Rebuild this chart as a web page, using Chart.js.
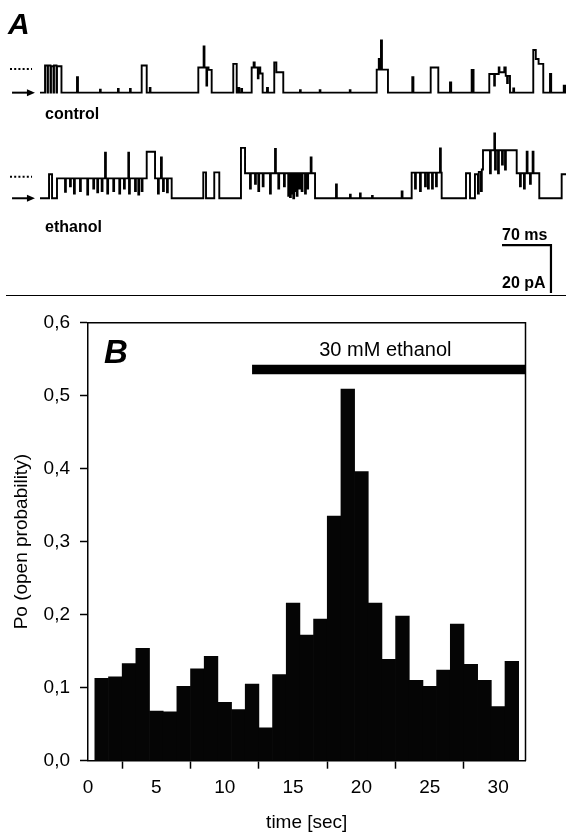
<!DOCTYPE html>
<html>
<head>
<meta charset="utf-8">
<script src="https://cdn.jsdelivr.net/npm/chart.js@4.4.1/dist/chart.umd.min.js"></script>
<style>
  html, body { margin: 0; padding: 0; background: #fff; }
  body { width: 566px; height: 839px; position: relative; overflow: hidden; }
  #traceChart { position: absolute; left: 0; top: 0; }
  #separator { position: absolute; left: 6px; top: 295px; width: 560px; height: 0; border-top: 1.5px solid #000; }
  #poChart { position: absolute; left: 0; top: 297px; }
</style>
</head>
<body>
<canvas id="traceChart" width="566" height="295"></canvas>
<div id="separator"></div>
<canvas id="poChart" width="566" height="542"></canvas>
<script>
/* ================= PANEL A DATA: single channel traces (time ms, current pA) ================= */
// each pair = [time where the level starts, current level]
const controlSteps = [
    [0, 0],
    [7.2, 11.3], [10.7, 0], [11.4, 11.3], [15, 0], [15.7, 11], [19.3, 0], [20, 11.3], [23.6, 0], [24.3, 11], [30.7, 0],
    [52.9, 6.4], [54.3, 0],
    [85.8, 1.2], [86.8, 0], [111.5, 1.5], [112.5, 0], [128.7, 1.5], [129.7, 0],
    [145.4, 11.3], [152.6, 0],
    [157, 2], [158, 0],
    [226.4, 10.5], [234, 19.2], [235.2, 10.5], [238, 3], [239, 10.5], [241, 9.5], [245.5, 0],
    [276.4, 12], [281.3, 0], [284, 2], [285, 0], [288, 1.5], [289, 0],
    [302.7, 10.5], [305.5, 12.6], [307, 10.5], [311.5, 6], [312.5, 10.5], [315, 8], [318.4, 0],
    [324.6, 2], [326, 0],
    [335, 12.6], [338, 8.5], [347.9, 0],
    [371.8, 1], [372.8, 0], [400, 1], [401, 0], [443, 1], [444, 0],
    [481.5, 9.6], [484.5, 14], [485.5, 9.6], [487.6, 21.7], [489, 9.6], [497.6, 0],
    [532.4, 6.4], [534, 0],
    [558.7, 10.5], [569.6, 0],
    [586.3, 4.3], [588, 0],
    [617.3, 9.5], [620, 0],
    [642.5, 7.8], [649.5, 3], [650.5, 7.8], [656, 10.5], [657, 8.5], [664, 10.5], [666, 7], [668, 4], [669, 7], [672.1, 0],
    [676.8, 1.7], [678, 0],
    [705.4, 17.8], [709, 14], [713, 12], [719.7, 0],
    [729.3, 7.8], [731, 0],
    [749, 2.9], [751, 0], [752.2, 0]
];

const ethanolSteps = [
    [0, 0],
    [12.9, 10], [17.2, 0],
    [24.3, 8.3], [35.8, 2.7], [37, 8.3], [42.9, 5], [44.1, 8.3], [48.6, 2], [49.8, 8.3], [57.2, 3], [58.4, 8.3],
    [67.6, 1.5], [68.8, 8.3], [76.2, 4], [77.4, 8.3], [81.9, 2.5], [83.1, 8.3], [88.2, 3], [89.4, 8.3],
    [93, 19], [94.2, 8.3], [96.2, 2], [97.4, 8.3], [104.8, 3], [106, 8.3], [113.4, 2], [114.6, 8.3],
    [120.1, 4], [121.3, 8.3], [126.3, 19], [127.3, 2], [128.5, 8.3], [135.9, 3], [137.1, 8.3],
    [140.6, 1.5], [141.8, 8.3], [145.4, 3], [146.6, 8.3],
    [152.6, 19.4], [164.5, 8.3], [168.7, 2], [169.9, 8.3], [173, 17], [174.2, 8.3], [175.9, 3], [177.1, 8.3],
    [181.6, 2.5], [182.8, 8.3], [188.3, 0],
    [233.5, 10.8], [237.4, 0],
    [249.2, 10.8], [256.4, 0],
    [287.4, 21], [293.2, 10.4], [300.3, 4], [301.5, 10.4], [307.5, 6], [308.7, 10.4], [312.2, 3], [313.4, 10.4],
    [318.5, 5], [319.7, 10.4], [328.9, 2], [330.1, 10.4], [336.1, 20.5], [337.3, 10.4], [340.8, 4], [342, 10.4],
    [348.9, 5], [350.1, 10.4], [355, 1], [356.2, 10.4], [357.5, 0.5], [358.7, 10.4], [359.9, 2], [361, 10.4],
    [362.2, 0], [363.4, 10.4], [365, 3], [366, 10.4], [367.1, 1], [368.3, 10.4], [371, 4], [372.2, 10.4],
    [374.2, 3], [375.4, 10.4], [379, 2], [380.2, 10.4], [382.2, 4], [383.4, 10.4], [387.1, 17], [388.3, 10.4],
    [393.3, 0],
    [423.3, 5.8], [424.5, 0],
    [443.3, 1.5], [444.3, 0], [457.6, 2], [458.6, 0], [474.8, 1], [475.8, 0],
    [517.2, 2.8], [518.4, 0],
    [531.5, 10.7], [536.3, 4], [537.5, 10.7], [543.4, 3], [544.6, 10.7], [550.6, 5], [551.8, 10.7],
    [554.8, 4], [556, 10.7], [560.6, 4], [561.8, 10.7], [566.3, 5], [567.5, 10.7], [572, 20.8], [573.2, 10.7],
    [574.4, 0],
    [609.2, 10.4], [614.9, 0],
    [622, 10], [626.3, 2], [627.5, 11], [630.6, 3], [631.8, 12], [633.5, 20],
    [643.5, 10.4], [644.7, 20], [649.7, 27], [650.7, 12], [651.9, 20], [655, 10.4], [656.2, 20],
    [660.7, 14], [661.9, 20], [665, 12], [666.2, 20],
    [681.7, 10.4], [686.4, 5], [687.6, 10.4], [692.1, 4], [693.3, 10.4], [696, 19.4], [697.2, 10.4],
    [700.7, 6], [701.9, 10.4], [704.5, 19.4], [705.7, 10.4], [714, 0],
    [746, 10], [752.2, 10]
];

const controlOffset = 44;              // control trace drawn above the ethanol trace (pA)
const openMarkLevels = [9.9, 9];       // dotted "open" marks: control, ethanol
const scaleBarTime = [660.7, 730.7];   // 70 ms
const scaleBarCurrent = [-19.5, -39.5]; // 20 pA

/* ================= PANEL B DATA: open probability ================= */
const timeSec = [1, 2, 3, 4, 5, 6, 7, 8, 9, 10, 11, 12, 13, 14, 15, 16, 17, 18, 19, 20,
                 21, 22, 23, 24, 25, 26, 27, 28, 29, 30, 31];
const openProb = [0.113, 0.115, 0.133, 0.154, 0.068, 0.067, 0.102, 0.126, 0.143, 0.080,
                  0.070, 0.105, 0.045, 0.118, 0.216, 0.172, 0.194, 0.335, 0.509, 0.396,
                  0.216, 0.139, 0.198, 0.110, 0.102, 0.124, 0.187, 0.132, 0.110, 0.074, 0.136];
const xTicks = [0, 5, 10, 15, 20, 25, 30];
const ethanolPeriod = [12, 32];
const ethanolBarLevel = 0.536;

const FONT = "'Liberation Sans', Arial, sans-serif";

/* ================= PANEL A CHART ================= */
const toPoints = (steps, offset) => steps.map(([t, pA]) => ({ x: t, y: pA + offset }));

const traceLabels = {
    id: 'traceLabels',
    afterDatasetsDraw(chart) {
        const { ctx, scales: { x, y } } = chart;
        ctx.save();
        ctx.fillStyle = '#000';
        ctx.font = `bold italic 30px ${FONT}`;
        ctx.fillText('A', 8, 34);
        ctx.font = `bold 16px ${FONT}`;
        ctx.fillText('control', 45, 119);
        ctx.fillText('ethanol', 45, 232);
        ctx.fillText('70 ms', 502, 240);
        ctx.fillText('20 pA', 502, 288);

        // arrow heads on the baseline markers
        [controlOffset, 0].forEach(base => {
            const tipX = x.getPixelForValue(-7.2);
            const py = y.getPixelForValue(base);
            ctx.beginPath();
            ctx.moveTo(tipX, py);
            ctx.lineTo(tipX - 8, py - 3.5);
            ctx.lineTo(tipX - 8, py + 3.5);
            ctx.closePath();
            ctx.fill();
        });
        ctx.restore();
    }
};

const markerLine = (x0, x1, level, dash) => ({
    data: [{ x: x0, y: level }, { x: x1, y: level }],
    borderColor: '#000',
    borderWidth: 2,
    borderDash: dash,
    pointRadius: 0
});

new Chart(document.getElementById('traceChart'), {
    type: 'line',
    data: {
        datasets: [
            {
                data: toPoints(controlSteps, controlOffset),
                stepped: true,
                borderColor: '#000',
                borderWidth: 1.9,
                pointRadius: 0
            },
            {
                data: toPoints(ethanolSteps, 0),
                stepped: true,
                borderColor: '#000',
                borderWidth: 1.9,
                pointRadius: 0
            },
            markerLine(-42.9, -11.4, openMarkLevels[0] + controlOffset, [2, 2.2]),
            markerLine(-42.9, -11.4, openMarkLevels[1], [2, 2.2]),
            markerLine(-40, -12, controlOffset, []),
            markerLine(-40, -12, 0, []),
            {
                data: [
                    { x: scaleBarTime[0], y: scaleBarCurrent[0] },
                    { x: scaleBarTime[1], y: scaleBarCurrent[0] },
                    { x: scaleBarTime[1], y: scaleBarCurrent[1] }
                ],
                borderColor: '#000',
                borderWidth: 2.2,
                pointRadius: 0
            }
        ]
    },
    options: {
        responsive: false,
        animation: false,
        layout: { padding: 0 },
        plugins: { legend: { display: false }, tooltip: { enabled: false } },
        scales: {
            x: { type: 'linear', display: false, min: -57.2, max: 752.2 },
            y: { type: 'linear', display: false, min: -40.3, max: 82.6 }
        }
    },
    plugins: [traceLabels]
});

/* ================= PANEL B CHART ================= */
const frameAndLabels = {
    id: 'frameAndLabels',
    afterDatasetsDraw(chart) {
        const { ctx, chartArea: area, scales: { x, y } } = chart;
        ctx.save();
        ctx.strokeStyle = '#000';
        ctx.lineWidth = 1.5;
        ctx.beginPath();
        ctx.moveTo(area.left, area.top);
        ctx.lineTo(area.right, area.top);
        ctx.lineTo(area.right, area.bottom);
        ctx.stroke();

        ctx.fillStyle = '#000';
        ctx.font = `bold italic 33px ${FONT}`;
        ctx.textAlign = 'left';
        ctx.fillText('B', area.left + 16, area.top + 40);

        ctx.font = `20px ${FONT}`;
        ctx.textAlign = 'center';
        ctx.fillText('30 mM ethanol', x.getPixelForValue(21.75), y.getPixelForValue(0.554));
        ctx.restore();
    }
};

new Chart(document.getElementById('poChart'), {
    data: {
        datasets: [
            {
                type: 'bar',
                data: timeSec.map((t, i) => ({ x: t, y: openProb[i] })),
                backgroundColor: '#050505',
                borderWidth: 0,
                barPercentage: 1,
                categoryPercentage: 1
            },
            {
                type: 'line',
                data: [
                    { x: ethanolPeriod[0], y: ethanolBarLevel },
                    { x: ethanolPeriod[1], y: ethanolBarLevel }
                ],
                borderColor: '#000',
                borderWidth: 9.5,
                borderCapStyle: 'butt',
                pointRadius: 0,
                clip: false
            }
        ]
    },
    options: {
        responsive: false,
        animation: false,
        layout: { padding: { top: 25.7, right: 40.5, left: 0, bottom: 0 } },
        plugins: { legend: { display: false }, tooltip: { enabled: false } },
        scales: {
            x: {
                type: 'linear',
                min: 0,
                max: 32,
                offset: false,
                afterBuildTicks: scale => { scale.ticks = xTicks.map(v => ({ value: v })); },
                afterFit: scale => { scale.height = 78.3; },
                grid: {
                    drawOnChartArea: false,
                    drawTicks: true,
                    tickLength: 8,
                    tickColor: '#000',
                    tickWidth: 1.5
                },
                border: { display: true, color: '#000', width: 1.5 },
                ticks: {
                    color: '#000',
                    padding: 8,
                    maxRotation: 0,
                    font: { family: FONT, size: 19 }
                },
                title: {
                    display: true,
                    text: 'time [sec]',
                    color: '#000',
                    font: { family: FONT, size: 19 },
                    padding: { top: 0, bottom: 4.6 }
                }
            },
            y: {
                type: 'linear',
                min: 0,
                max: 0.6,
                afterFit: scale => { scale.width = 88; },
                grid: {
                    drawOnChartArea: false,
                    drawTicks: true,
                    tickLength: 8,
                    tickColor: '#000',
                    tickWidth: 1.5
                },
                border: { display: true, color: '#000', width: 1.5 },
                ticks: {
                    stepSize: 0.1,
                    color: '#000',
                    padding: 10,
                    font: { family: FONT, size: 19 },
                    callback: v => v.toFixed(1).replace('.', ',')
                },
                title: {
                    display: true,
                    text: 'Po (open probability)',
                    color: '#000',
                    font: { family: FONT, size: 19 },
                    padding: { top: 10.6, bottom: 0 }
                }
            }
        }
    },
    plugins: [frameAndLabels]
});
</script>
</body>
</html>
